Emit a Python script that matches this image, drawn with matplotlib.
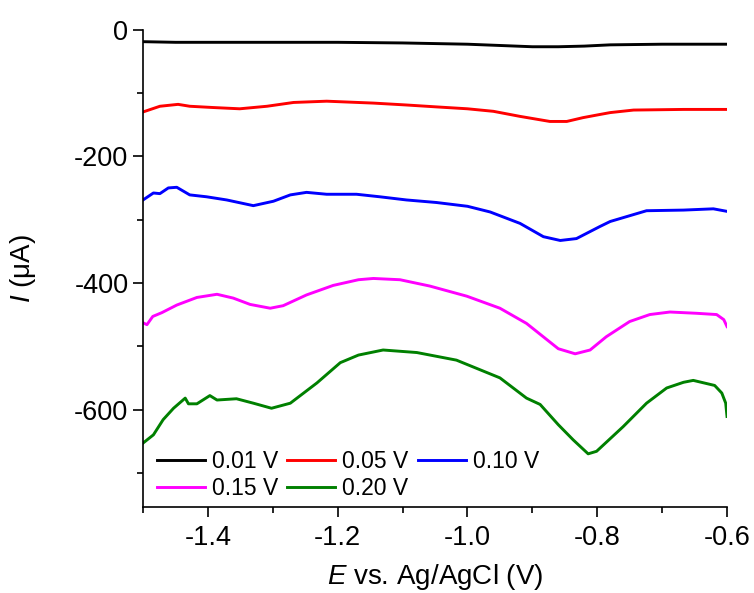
import matplotlib
matplotlib.use("Agg")
import matplotlib.pyplot as plt
from matplotlib.ticker import MultipleLocator

plt.rcParams["font.family"] = ["Liberation Sans", "DejaVu Sans"]
plt.rcParams["axes.unicode_minus"] = False
plt.rcParams["mathtext.fontset"] = "custom"
plt.rcParams["mathtext.it"] = "Liberation Sans:italic"
plt.rcParams["mathtext.rm"] = "Liberation Sans"

# potential (V vs Ag/AgCl) and current (uA)
x_001 = [-1.5, -1.45, -1.4, -1.3, -1.2, -1.1, -1.0, -0.95, -0.9, -0.86, -0.82, -0.78, -0.7, -0.6]
y_001 = [-19, -20, -20, -20, -20, -21, -23, -25, -27, -27, -26, -24, -23, -23]

x_005 = [-1.5, -1.474, -1.446, -1.428, -1.392, -1.351, -1.309, -1.268, -1.217, -1.145, -1.094,
         -1.048, -1.0, -0.96, -0.919, -0.873, -0.847, -0.822, -0.796, -0.78, -0.744, -0.667, -0.6]
y_005 = [-130, -121, -118, -121, -123, -125, -121, -115, -113, -116, -119,
         -122, -125, -129, -137, -145, -145, -139, -134, -131, -127, -126, -126]

x_010 = [-1.5, -1.484, -1.474, -1.461, -1.448, -1.428, -1.402, -1.371, -1.33, -1.299, -1.273,
         -1.248, -1.217, -1.171, -1.135, -1.094, -1.048, -1.0, -0.965, -0.919, -0.883, -0.857,
         -0.832, -0.796, -0.78, -0.724, -0.667, -0.621, -0.6]
y_010 = [-269, -258, -259, -250, -249, -261, -264, -269, -278, -271, -261,
         -257, -260, -260, -264, -269, -273, -279, -288, -306, -327, -333,
         -330, -311, -303, -286, -285, -283, -287]

x_015 = [-1.5, -1.494, -1.485, -1.471, -1.448, -1.417, -1.386, -1.361, -1.335, -1.304, -1.284,
         -1.248, -1.207, -1.168, -1.145, -1.104, -1.058, -1.001, -0.95, -0.909, -0.86, -0.834,
         -0.811, -0.786, -0.75, -0.719, -0.688, -0.647, -0.616, -0.605, -0.6]
y_015 = [-463, -466, -453, -447, -435, -423, -418, -424, -434, -440, -436,
         -419, -404, -395, -393, -395, -405, -421, -440, -464, -504, -512,
         -506, -485, -461, -450, -446, -448, -450, -458, -469]

x_020 = [-1.5, -1.484, -1.469, -1.453, -1.435, -1.43, -1.417, -1.397, -1.386, -1.356, -1.33,
         -1.302, -1.273, -1.232, -1.196, -1.168, -1.13, -1.078, -1.017, -0.95, -0.909, -0.888,
         -0.86, -0.837, -0.814, -0.801, -0.76, -0.724, -0.693, -0.667, -0.652, -0.619, -0.608,
         -0.602, -0.6]
y_020 = [-653, -640, -616, -598, -582, -591, -591, -578, -585, -583, -590,
         -598, -590, -558, -526, -514, -506, -510, -522, -550, -582, -592,
         -624, -648, -670, -666, -627, -590, -566, -557, -554, -562, -574,
         -590, -611]

labels = ["0.01 V", "0.05 V", "0.10 V", "0.15 V", "0.20 V"]
colors = ["black", "#ff0000", "#0000ff", "#ff00ff", "#008000"]

fig = plt.figure(figsize=(7.54, 5.93), dpi=100)
ax = fig.add_axes([0.1897, 0.145, 0.7745, 0.805])

series = [(x_001, y_001), (x_005, y_005), (x_010, y_010), (x_015, y_015), (x_020, y_020)]
handles = []
for (xs, ys), lab, col in zip(series, labels, colors):
    h, = ax.plot(xs, ys, color=col, lw=2.1, label=lab)
    handles.append(h)

ax.set_xlim(-1.5, -0.6)
ax.set_ylim(-754, 0)
ax.xaxis.set_major_locator(MultipleLocator(0.2))
ax.xaxis.set_minor_locator(MultipleLocator(0.1))
ax.yaxis.set_major_locator(MultipleLocator(200))
ax.yaxis.set_minor_locator(MultipleLocator(100))
ax.xaxis.set_major_formatter(plt.FuncFormatter(lambda v, p: f"{v:.1f}"))

for s in ["top", "right"]:
    ax.spines[s].set_visible(False)
for s in ["left", "bottom"]:
    ax.spines[s].set_linewidth(1.2)
ax.tick_params(which="both", direction="out", width=1.2, labelsize=19.5)
ax.tick_params(which="major", length=7)
ax.tick_params(which="minor", length=4.5)
ax.tick_params(axis="x", which="major", pad=6)

ax.set_xlabel("$\\mathit{E}$ vs. Ag/AgCl (V)", fontsize=20, labelpad=8)
ax.set_ylabel("$\\mathit{I}$ ($\\mathrm{\u03bc}$A)", fontsize=20, labelpad=26)

# row-major order in a 3-column legend
order = [0, 3, 1, 4, 2]
ax.legend([handles[i] for i in order], [labels[i] for i in order],
          loc="lower left", bbox_to_anchor=(0.0, -0.015), ncol=3, frameon=False,
          fontsize=16.5, handlelength=2.1, handletextpad=0.3, columnspacing=0.4,
          labelspacing=0.2, borderaxespad=0.2)

fig.savefig("out.png", dpi=100)
